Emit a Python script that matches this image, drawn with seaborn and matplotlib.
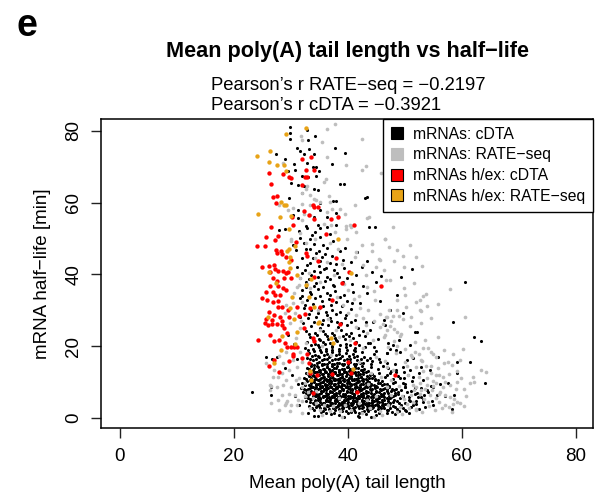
import matplotlib
matplotlib.use("Agg")
import matplotlib.pyplot as plt
from matplotlib.lines import Line2D
import seaborn as sns
import pandas as pd

# ---------------- data ----------------
x_ticks = [0, 20, 40, 60, 80]
y_ticks = [0, 20, 40, 60, 80]
series_labels = ["mRNAs: cDTA", "mRNAs: RATE\u2212seq",
                 "mRNAs h/ex: cDTA", "mRNAs h/ex: RATE\u2212seq"]
series_colors = ["#000000", "#BEBEBE", "#FF0000", "#E8A317"]
pearson_rate = -0.2197
pearson_cdta = -0.3921

# mRNAs: cDTA (black)
cdta_pts = [
    # upper scatter
    (29.9,81.1),(29.8,79.4),(29.8,77.8),(32.9,80.2),(33.0,77.4),(34.2,78.5),(31.1,75.2),(31.6,74.3),
    (33.2,75.0),(32.3,73.6),(34.0,73.6),(37.8,75.3),(39.5,73.8),(27.4,73.5),(28.9,72.1),(30.6,70.8),
    (32.9,71.1),(33.8,70.0),(34.4,70.0),(34.9,68.7),(37.2,70.8),(30.8,69.2),(29.5,68.9),(31.9,67.5),
    (33.0,67.0),(34.5,67.5),(30.1,65.4),(31.2,65.0),(32.3,64.7),(34.0,63.8),(34.8,63.5),(38.6,65.3),
    (39.4,65.3),(29.6,61.3),(31.9,62.6),(37.4,60.4),(37.9,60.4),(35.1,59.8),(43.0,61.3),(43.3,61.5),
    (31.3,58.0),(31.3,55.7),(30.4,56.6),(35.1,58.0),(36.3,56.0),(37.9,57.1),(43.7,53.3),(44.7,53.3),
    (32.7,53.4),(34.8,53.7),(38.0,53.7),(34.1,56.0),
    # middle scatter
    (28.0,52.4),(29.0,52.6),(31.5,52.1),(32.9,53.0),(34.2,51.9),(35.1,52.8),(36.4,53.3),(31.6,50.2),
    (33.4,49.9),(35.1,50.5),(36.8,51.2),(32.3,48.7),(34.1,48.4),(35.7,48.2),(37.4,49.3),(33.3,47.1),
    (35.0,46.5),(36.4,47.3),(38.6,46.5),(39.5,47.4),(41.6,46.3),(31.9,44.5),(33.8,44.5),(35.4,44.9),
    (37.2,45.2),(39.1,44.0),(40.5,43.5),(43.3,43.7),(31.1,42.2),(32.9,42.6),(34.9,42.4),(36.1,41.7),
    (37.9,42.8),(39.4,41.7),(42.4,42.2),(44.2,40.8),(32.0,40.3),(33.6,39.8),(35.1,40.8),(36.4,39.4),
    (38.1,40.3),(39.8,38.9),(41.5,39.8),(32.7,37.8),(34.5,37.5),(36.0,38.2),(37.4,37.0),(39.2,37.8),
    (40.8,37.2),(42.7,36.9),(45.0,38.0),(32.0,35.7),(33.3,35.2),(34.8,35.9),(36.3,34.7),(37.7,35.4),
    (39.3,34.3),(40.9,35.2),(43.4,34.7),(31.6,33.3),(32.9,32.9),(34.2,33.5),(35.4,32.6),(36.7,33.2),
    (38.0,32.2),(39.8,32.6),(42.1,31.9),(32.3,30.6),(33.6,30.1),(35.0,30.7),(36.1,29.4),(37.3,30.1),
    (38.7,29.4),(40.5,30.4),(31.6,28.2),(33.0,27.8),(34.4,28.2),(35.7,27.3),(36.8,27.9),(38.1,26.8),
    (39.5,27.8),(41.2,27.3),(44.4,26.8),
    # plume above the core
    (32.2,26.5),(34.0,26.8),(35.5,26.3),(37.0,26.9),(38.8,26.4),(40.6,26.7),(33.1,28.9),(34.8,29.3),
    (36.4,28.7),(37.9,29.1),(39.6,28.6),(32.4,31.4),(33.9,31.8),(35.6,31.3),(37.1,31.6),(38.9,31.1),
    (40.7,31.9),(31.9,34.1),(33.6,34.4),(35.1,33.9),(36.9,34.3),(38.6,33.8),(32.6,36.6),(34.1,36.9),
    (35.7,36.4),(37.6,36.8),(31.6,39.1),(33.1,38.6),(34.7,39.2),(36.9,38.8),(38.5,39.4),(32.4,41.3),
    (34.1,41.0),(35.8,41.6),(37.5,41.2),(33.4,43.3),(35.1,43.6),(36.8,43.1),(30.9,46.8),(32.6,47.2),
    (34.4,46.0),(36.0,45.7),(33.7,51.0),(30.3,48.3),
    # right scatter
    (51.2,41.4),(49.4,39.3),(60.6,37.9),(45.9,39.5),(48.6,34.2),(45.6,32.6),(47.4,30.2),(49.6,29.3),
    (58.5,26.8),(46.3,27.4),(51.7,24.0),(52.1,24.0),(62.1,22.6),(63.3,21.5),(48.9,21.7),(50.9,20.3),
    (47.9,20.3),(47.4,19.1),(48.5,18.9),(49.2,18.4),(46.8,18.0),(55.8,17.0),(51.4,16.6),(61.4,15.6),
    (59.2,15.6),(50.3,16.1),(64.1,9.8),(59.1,12.4),(57.6,9.6),(58.6,6.4),(57.0,6.1),(56.1,9.4),
    (55.0,8.7),(53.8,7.8),(53.2,4.5),(55.0,3.6),(52.3,5.9),(51.9,4.0),(50.0,2.2),(58.3,2.4),
    (50.7,5.0),(51.4,11.5),(52.9,14.3),(54.4,13.5),(50.9,13.3),(49.7,14.3),(48.5,13.3),(47.4,12.4),
    (49.1,11.0),(47.9,9.6),(46.8,8.2),(48.8,7.3),(50.0,8.7),(47.6,5.9),(46.5,4.0),(48.2,3.0),(46.8,2.2),
    (48.9,1.8),(50.8,1.4),(52.4,2.6),(49.6,2.9),(51.5,3.5),(53.6,3.0),(49.0,4.1),(50.9,4.6),(53.1,5.2),
    (54.7,4.8),(49.7,6.0),(51.7,6.6),(53.4,6.5),(55.6,6.3),(49.3,7.9),(51.0,7.6),(52.8,8.4),(54.6,8.8),
    (49.6,9.6),(51.3,10.2),(53.1,10.5),(48.8,11.6),(50.6,11.9),(52.4,12.6),(47.6,13.1),(49.9,12.8),
    (46.1,14.6),(48.3,14.9),(44.3,15.9),(46.8,15.3),(43.3,16.2),(45.0,18.6),(43.9,20.9),(41.9,20.2),
    # left / edge scatter
    (23.2,7.3),(25.7,17.1),(26.7,16.3),(26.5,8.7),(26.6,6.4),(27.5,17.0),(28.9,14.0),(30.2,12.0),
    (31.0,16.5),(30.5,20.5),(29.5,23.0),(31.2,9.5),(30.8,6.0),(31.5,3.5),(33.0,1.5),(34.1,0.6),
    (42.0,0.3),(43.8,24.5),(45.2,22.0),(46.5,25.8),(44.6,19.8),(46.9,18.2),(45.5,16.5),(47.0,21.0),
    (43.2,26.8),(42.0,23.2),(41.0,19.0),(40.2,22.8),(42.8,17.0),
    # dense core
    (34.8,0.6),(37.0,1.2),(38.5,0.8),(40.1,1.4),(41.7,0.5),(43.2,1.1),(45.0,0.9),(46.9,1.3),(39.4,0.3),
    (42.5,1.6),(44.1,0.4),(48.3,1.0),
    (35.3,1.7),(37.6,1.5),(38.9,1.9),(40.6,1.7),(42.0,1.3),(43.6,1.8),(45.4,1.4),(47.8,1.7),
    (34.1,2.3),(35.6,1.9),(36.7,2.6),(37.8,2.1),(38.9,2.8),(39.7,1.8),(40.8,2.4),(41.9,2.9),(42.8,2.0),
    (43.9,2.6),(44.8,1.9),(45.9,2.7),(47.1,2.2),(48.6,2.5),(50.2,2.0),(36.2,1.5),(41.3,1.6),
    (35.1,2.8),(36.0,2.5),(37.4,2.9),(38.4,2.4),(39.2,2.7),(40.2,2.9),(41.0,2.3),(42.4,2.8),(43.4,2.4),
    (44.3,2.9),(45.3,2.5),(46.4,2.8),
    (33.7,2.9),(34.9,3.3),(35.8,2.9),(36.6,3.4),(37.6,3.1),(38.3,3.3),(39.1,3.0),(40.0,3.2),(40.9,2.9),
    (41.7,3.4),(42.6,3.0),(43.4,3.3),(44.4,3.0),(45.2,3.3),(46.2,3.2),(47.4,2.9),
    (33.2,3.4),(34.5,3.1),(35.4,3.8),(36.3,3.2),(37.2,3.6),(38.0,3.0),(38.8,3.9),(39.6,3.3),(40.5,3.7),
    (41.3,3.1),(42.2,3.5),(43.0,3.9),(43.9,3.2),(44.8,3.6),(45.7,3.0),(46.8,3.8),(47.9,3.3),(49.3,3.7),
    (51.0,3.1),
    (34.6,3.7),(35.5,3.9),(36.4,3.6),(37.3,3.9),(38.2,3.7),(39.0,3.6),(39.9,3.9),(40.8,3.6),(41.6,3.9),
    (42.5,3.7),(43.4,3.9),(44.2,3.6),(45.1,3.9),(46.0,3.7),
    (34.0,4.0),(35.0,3.6),(35.9,4.1),(36.8,3.7),(37.7,4.2),(38.5,3.5),(39.3,4.1),(40.1,3.6),(40.9,4.2),
    (41.8,3.7),(42.6,4.1),(43.5,3.6),(44.3,4.2),(45.2,3.7),(46.2,4.0),(47.3,3.6),
    (33.3,4.4),(34.3,4.6),(35.2,4.5),(36.1,4.6),(36.9,4.4),(37.7,4.6),(38.5,4.3),(39.3,4.6),(40.1,4.5),
    (40.9,4.7),(41.6,4.4),(42.5,4.6),(43.3,4.4),(44.2,4.5),(45.1,4.7),(46.0,4.5),(47.0,4.6),(48.0,4.4),
    (32.7,4.6),(33.9,4.2),(34.8,4.9),(35.7,4.3),(36.5,4.8),(37.3,4.1),(38.1,4.7),(38.9,4.4),(39.7,4.9),
    (40.5,4.2),(41.2,4.6),(42.0,4.3),(42.9,4.8),(43.7,4.1),(44.6,4.7),(45.5,4.4),(46.4,4.9),(47.4,4.3),
    (48.6,4.7),(50.1,4.2),(52.0,4.8),
    (33.4,5.2),(34.3,5.0),(35.2,5.3),(36.1,4.9),(36.9,5.3),(37.7,5.0),(38.5,5.2),(39.3,4.9),(40.1,5.3),
    (40.9,5.0),(41.6,5.3),(42.5,5.0),(43.3,5.2),(44.2,5.0),(45.1,5.3),(46.0,5.0),(47.0,5.2),(48.1,5.0),
    (33.0,5.6),(33.9,5.7),(34.8,5.5),(35.6,5.8),(36.4,5.6),(37.2,5.7),(38.0,5.4),(38.7,5.8),(39.5,5.7),
    (40.3,5.5),(41.1,5.8),(41.9,5.6),(42.7,5.7),(43.5,5.4),(44.4,5.7),(45.4,5.6),(46.3,5.8),(47.4,5.5),
    (32.4,5.8),(33.5,5.4),(34.4,6.1),(35.2,5.5),(36.0,6.0),(36.8,5.3),(37.6,5.9),(38.3,5.6),(39.1,6.2),
    (39.9,5.4),(40.7,5.8),(41.5,5.5),(42.3,6.1),(43.1,5.6),(44.0,5.9),(44.9,5.3),(45.8,6.0),(46.8,5.6),
    (47.9,6.2),(49.2,5.5),(50.7,5.9),(52.8,5.7),
    (34.2,6.0),(35.0,5.9),(35.9,6.2),(36.7,5.9),(37.5,6.1),(38.3,5.9),(39.2,6.0),(40.0,6.2),(40.9,5.9),
    (41.7,6.1),(42.6,5.9),(43.4,6.0),(44.3,6.2),(45.2,5.9),(46.1,6.1),
    (33.0,6.4),(33.9,6.2),(34.8,6.5),(35.6,6.1),(36.4,6.4),(37.2,6.2),(38.0,6.5),(38.7,6.2),(39.5,6.4),
    (40.3,6.1),(41.1,6.5),(41.9,6.2),(42.7,6.4),(43.5,6.1),(44.4,6.5),(45.3,6.2),(46.2,6.4),(47.2,6.2),
    (48.3,6.4),
    (32.6,6.9),(33.6,7.1),(34.5,6.8),(35.3,7.0),(36.1,6.9),(36.9,7.1),(37.6,6.7),(38.4,7.0),(39.1,6.8),
    (39.9,7.1),(40.7,6.9),(41.5,7.2),(42.3,6.7),(43.1,7.0),(44.0,6.9),(44.9,7.1),(45.9,6.8),(47.0,7.0),
    (48.2,6.9),
    (32.1,7.1),(33.2,6.7),(34.1,7.3),(34.9,6.8),(35.7,7.4),(36.5,6.6),(37.2,7.2),(38.0,6.9),(38.7,7.5),
    (39.5,6.7),(40.3,7.1),(41.1,6.8),(41.9,7.4),(42.7,6.9),(43.6,7.2),(44.5,6.6),(45.4,7.3),(46.4,6.9),
    (47.5,7.4),(48.8,6.8),(50.3,7.2),(52.1,6.9),(54.0,7.3),
    (32.7,7.8),(33.6,7.6),(34.5,7.9),(35.3,7.5),(36.1,7.8),(36.9,7.6),(37.6,7.9),(38.4,7.6),(39.1,7.8),
    (39.9,7.5),(40.7,7.9),(41.5,7.6),(42.3,7.8),(43.1,7.5),(44.0,7.9),(44.9,7.6),(45.9,7.8),(46.9,7.5),
    (48.1,7.8),
    (32.3,8.2),(33.4,8.3),(34.3,8.0),(35.1,8.3),(35.9,8.1),(36.6,8.4),(37.4,8.0),(38.1,8.3),(38.9,8.2),
    (39.6,8.5),(40.4,8.1),(41.2,8.4),(42.0,8.0),(42.9,8.3),(43.8,8.2),(44.7,8.4),(45.6,8.0),(46.6,8.3),
    (47.8,8.2),
    (31.8,8.4),(33.0,8.0),(33.9,8.6),(34.7,8.1),(35.5,8.7),(36.2,8.0),(37.0,8.5),(37.7,8.2),(38.5,8.8),
    (39.2,8.0),(40.0,8.4),(40.8,8.1),(41.6,8.7),(42.4,8.2),(43.3,8.6),(44.2,8.0),(45.1,8.5),(46.1,8.2),
    (47.2,8.7),(48.5,8.1),(50.0,8.5),(51.8,8.3),
    (33.7,8.7),(34.5,8.6),(35.4,8.8),(36.2,8.6),(37.1,8.7),(37.9,8.6),(38.8,8.7),(39.6,8.6),(40.4,8.8),
    (41.3,8.6),(42.1,8.7),(43.0,8.6),(43.9,8.8),(44.8,8.6),
    (32.5,9.1),(33.5,8.9),(34.4,9.2),(35.2,8.9),(36.0,9.1),(36.8,8.8),(37.5,9.2),(38.3,8.9),(39.0,9.1),
    (39.8,8.8),(40.6,9.2),(41.4,8.9),(42.2,9.1),(43.1,8.8),(44.0,9.2),(45.0,8.9),(46.0,9.1),(47.3,8.9),
    (32.4,9.5),(33.6,9.6),(34.4,9.4),(35.2,9.6),(36.0,9.5),(36.7,9.7),(37.5,9.4),(38.2,9.6),(39.0,9.5),
    (39.8,9.7),(40.6,9.4),(41.4,9.6),(42.3,9.4),(43.2,9.6),(44.1,9.5),(45.2,9.6),(46.4,9.4),
    (32.0,9.8),(33.1,9.3),(34.0,9.9),(34.8,9.4),(35.6,10.0),(36.3,9.3),(37.1,9.8),(37.8,9.5),(38.6,10.1),
    (39.4,9.3),(40.2,9.7),(41.0,9.4),(41.8,10.0),(42.7,9.5),(43.6,9.9),(44.6,9.3),(45.7,9.8),(46.9,9.5),
    (48.3,9.9),(50.0,9.4),
    (32.9,10.4),(33.8,10.2),(34.7,10.5),(35.5,10.1),(36.3,10.4),(37.0,10.2),(37.8,10.5),(38.6,10.2),
    (39.4,10.4),(40.2,10.1),(41.0,10.5),(41.9,10.2),(42.7,10.4),(43.7,10.1),(44.8,10.5),(46.0,10.2),
    (34.1,10.7),(35.0,10.6),(35.8,10.7),(36.7,10.5),(37.5,10.7),(38.3,10.6),(39.1,10.7),(40.0,10.5),
    (40.8,10.7),(41.6,10.6),(42.4,10.7),(43.3,10.5),
    (32.7,10.9),(33.6,11.0),(34.5,10.8),(35.3,11.0),(36.2,10.9),(36.9,11.1),(37.8,10.8),(38.6,11.0),
    (39.4,10.9),(40.2,11.1),(41.0,10.8),(41.8,11.0),(42.7,10.9),(43.7,11.1),(44.8,10.8),
    (32.3,11.1),(33.4,10.6),(34.3,11.3),(35.1,10.8),(35.9,11.4),(36.6,10.7),(37.4,11.2),(38.2,10.9),
    (39.0,11.5),(39.8,10.7),(40.6,11.1),(41.4,10.8),(42.3,11.4),(43.2,10.9),(44.2,11.2),(45.3,10.6),
    (46.5,11.3),(48.0,10.9),(49.8,11.2),
    (33.1,11.8),(34.0,11.6),(34.9,11.9),(35.7,11.5),(36.5,11.8),(37.3,11.6),(38.1,11.9),(38.9,11.5),
    (39.7,11.8),(40.5,11.6),(41.4,11.9),(42.3,11.5),(43.3,11.8),(44.5,11.6),
    (33.0,12.2),(33.9,12.4),(34.8,12.1),(35.7,12.3),(36.6,12.2),(37.4,12.4),(38.2,12.0),(39.0,12.3),
    (39.9,12.2),(40.8,12.4),(41.7,12.1),(42.7,12.3),(43.8,12.1),
    (32.6,12.5),(33.7,12.0),(34.6,12.7),(35.4,12.2),(36.2,12.8),(37.0,12.1),(37.8,12.6),(38.6,12.3),
    (39.4,12.9),(40.3,12.1),(41.2,12.5),(42.1,12.2),(43.1,12.8),(44.2,12.3),(45.4,12.6),(46.8,12.1),
    (48.5,12.7),
    (34.3,12.8),(35.1,12.7),(36.0,12.9),(36.9,12.7),(37.7,12.9),(38.5,12.8),(39.7,12.7),(40.7,12.9),
    (41.7,12.7),(42.7,12.9),
    (33.4,13.2),(34.3,12.9),(35.2,13.3),(36.0,13.0),(36.8,13.2),(37.6,12.9),(38.4,13.3),(39.3,13.0),
    (40.2,13.2),(41.2,12.9),(42.3,13.3),(43.5,13.0),
    (33.2,13.6),(34.1,13.8),(35.0,13.5),(35.9,13.7),(36.7,13.6),(37.6,13.8),(38.5,13.4),(39.4,13.7),
    (40.3,13.6),(41.3,13.8),(42.4,13.5),
    (32.9,13.9),(33.9,13.4),(34.8,14.1),(35.6,13.6),(36.4,14.2),(37.2,13.5),(38.0,14.0),(38.9,13.7),
    (39.8,14.3),(40.7,13.5),(41.7,13.9),(42.8,13.6),(44.0,14.2),(45.3,13.7),(47.0,13.9),
    (33.6,14.6),(34.6,14.4),(35.5,14.7),(36.3,14.3),(37.2,14.6),(38.1,14.4),(39.1,14.7),(40.1,14.3),
    (41.2,14.6),(42.4,14.4),
    (33.6,15.0),(34.6,15.2),(35.5,14.9),(36.3,15.1),(37.2,15.0),(38.1,15.2),(39.0,14.9),(40.0,15.1),
    (41.0,15.0),(42.2,15.2),
    (33.1,15.3),(34.1,14.8),(35.0,15.5),(35.8,15.0),(36.7,15.6),(37.6,14.9),(38.5,15.4),(39.4,15.1),
    (40.4,15.7),(41.5,14.9),(42.7,15.3),(44.0,15.0),(45.6,15.5),
    (33.4,16.3),(34.4,16.5),(35.4,16.1),(36.3,16.4),(37.2,16.2),(38.2,16.5),(39.3,16.1),(40.4,16.4),
    (41.6,16.2),
    (32.8,16.7),(33.9,16.2),(34.9,16.9),(35.8,16.4),(36.7,17.0),(37.7,16.3),(38.7,16.8),(39.8,16.5),
    (41.0,17.1),(42.3,16.3),(43.8,16.8),
    (33.7,17.4),(34.8,17.2),(35.8,17.5),(36.8,17.3),(37.9,17.5),(39.0,17.2),(40.2,17.4),(41.6,17.3),
    (33.2,18.1),(34.3,17.6),(35.3,18.3),(36.3,17.8),(37.3,18.4),(38.4,17.7),(39.6,18.2),(40.9,17.9),
    (42.5,18.3),(44.5,17.8),
    (33.0,18.9),(34.1,18.7),(35.2,19.0),(36.2,18.6),(37.3,18.9),(38.5,18.7),(39.8,19.0),(41.2,18.7),
    (32.5,19.6),(33.8,19.1),(35.0,19.8),(36.1,19.3),(37.2,19.9),(38.4,19.2),(39.7,19.7),(41.2,19.4),
    (43.0,19.8),
    (33.5,20.4),(34.8,20.2),(36.0,20.5),(37.3,20.1),(38.7,20.4),(40.3,20.2),
    (32.9,21.1),(34.3,20.6),(35.6,21.3),(36.8,20.8),(38.1,21.4),(39.6,20.7),(41.4,21.2),(43.5,20.9),
    (33.9,21.9),(35.2,21.7),(36.6,22.0),(38.0,21.7),(39.5,22.0),
    (33.4,22.6),(34.9,22.1),(36.3,22.8),(37.7,22.3),(39.2,22.9),(40.9,22.2),(43.0,22.7),
    (33.1,23.4),(34.6,23.2),(36.0,23.5),(37.5,23.1),(39.6,23.3),
    (32.6,24.1),(34.2,23.6),(35.7,24.3),(37.2,23.8),(38.8,24.4),(40.5,23.7),(42.6,24.2),
    (33.5,25.6),(35.1,25.1),(36.6,25.8),(38.2,25.3),(39.9,25.9),(41.8,25.2),
]

# mRNAs: RATE-seq (grey)
rate_pts = [
    # upper
    (37.7,82.0),(36.3,80.6),(31.7,78.5),(32.0,77.5),(35.4,76.9),(42.4,77.7),(28.6,71.1),(36.3,72.6),
    (39.6,70.5),(43.1,70.1),(42.5,69.2),(45.8,68.2),(36.1,66.6),(35.8,65.7),(32.9,64.7),(32.6,63.7),
    (32.0,62.6),(33.4,62.0),(34.1,61.1),(34.5,60.6),(35.1,60.2),(36.7,61.9),(36.8,60.2),(41.2,59.2),
    (38.6,58.3),(37.3,58.3),(36.3,57.4),(33.3,59.2),(31.9,59.6),(30.4,58.5),(29.5,58.0),(27.9,59.2),
    (32.3,56.9),(33.4,56.6),(39.5,56.8),(38.3,56.2),(43.3,55.7),(43.7,56.0),(40.3,53.7),(39.6,53.4),
    (37.1,53.9),(32.0,55.1),(35.8,54.0),
    # middle
    (31.6,51.4),(30.1,49.3),(37.7,51.7),(39.6,52.6),(40.6,53.3),(41.5,51.9),(46.5,50.0),(44.3,48.4),
    (41.4,46.3),(45.5,44.2),(42.7,42.6),(43.2,39.8),(45.0,42.2),(46.7,38.4),(43.3,36.6),(44.6,35.4),
    (42.0,34.1),(39.2,31.5),(42.1,30.5),(43.6,30.1),(45.6,28.9),(46.8,28.2),(38.3,47.1),(36.3,43.4),
    (31.6,38.9),(31.1,36.6),(32.0,32.4),(30.7,29.2),(31.5,37.0),(32.9,37.2),(35.1,38.0),(40.1,35.7),
    (38.1,33.8),(41.5,28.7),(44.7,32.9),(30.1,50.0),(34.2,50.0),(32.7,48.7),(33.2,40.3),(30.6,34.7),
    (29.2,31.5),(28.9,29.2),(29.8,26.4),
    (30.9,22.4),(31.7,27.0),(30.4,31.9),(33.3,36.1),(34.2,44.5),(37.6,39.9),(39.4,37.2),(41.0,33.1),
    (40.0,29.3),(42.7,27.8),(36.5,27.6),(34.7,30.1),(37.9,24.4),(43.2,25.8),(39.0,42.9),(41.2,44.9),
    (36.8,48.8),(39.9,49.8),(42.5,48.2),
    # right
    (47.9,53.1),(46.6,50.0),(48.7,46.9),(49.6,45.1),(51.9,44.9),(49.9,42.1),(53.0,42.3),(45.6,44.0),
    (47.4,38.4),(57.9,35.9),(48.6,32.8),(50.0,34.3),(53.2,34.1),(53.7,34.4),(52.6,32.8),(51.9,32.3),
    (55.8,31.8),(53.8,31.1),(52.6,30.2),(52.9,29.9),(48.6,30.0),(47.2,30.2),(48.9,28.4),(47.9,28.4),
    (49.6,27.7),(60.6,28.2),(46.7,28.0),(46.2,26.3),(47.4,25.6),(48.1,24.9),(46.8,24.5),(48.6,24.0),
    (49.2,22.8),(46.3,22.6),(48.1,21.5),(48.6,20.0),(53.2,19.6),(54.0,19.5),(60.2,19.1),(51.8,18.4),
    (55.0,17.7),(58.5,17.7),(52.9,16.1),(55.4,17.0),(58.2,14.7),(57.6,15.6),(51.3,17.0),(51.9,14.3),
    (50.3,14.5),(63.4,13.3),(64.2,12.9),(59.2,13.1),(53.1,13.0),(56.7,11.5),(56.0,11.9),(54.6,12.4),
    (61.5,9.6),(62.2,9.9),(59.1,10.1),(57.9,9.2),(56.7,8.7),(55.5,9.6),(55.0,10.4),(53.8,11.0),
    (52.6,9.6),(51.4,9.2),(56.1,7.3),(57.0,6.4),(57.9,5.9),(54.4,6.4),(53.3,5.4),(52.6,6.8),
    (59.1,4.5),(59.6,4.2),(58.5,4.0),(56.0,4.5),(57.1,3.6),(54.3,3.3),(53.0,1.7),(51.9,2.2),
    (50.7,2.7),(58.3,1.7),(49.1,3.0),(48.7,1.7),(50.3,4.0),(49.8,5.4),(51.0,6.4),(51.6,7.8),
    (52.9,7.8),(54.7,7.8),(53.8,9.2),
    (55.2,2.3),(56.6,2.8),(57.8,3.0),(60.3,3.2),(54.0,4.4),(55.4,5.5),(58.7,5.4),(60.8,6.1),
    (52.0,8.6),(54.9,8.9),(58.9,8.0),(60.4,8.2),(61.9,11.3),(59.8,11.0),(57.8,12.2),(55.8,13.9),
    (53.7,14.5),(56.8,15.2),(59.6,16.1),(52.4,17.9),(54.5,18.4),(56.8,18.9),(50.1,19.3),(51.7,21.3),
    (53.6,21.8),(55.8,22.6),(49.4,23.4),(50.9,25.6),(52.9,26.4),(54.6,27.9),(50.2,30.9),(51.1,28.0),
    (47.6,26.9),(49.8,36.1),(51.6,37.6),(46.3,41.1),(48.1,43.6),(44.2,46.4),(50.9,48.3),(47.3,47.6),
    # left of core and bottom
    (25.7,15.2),(26.3,9.2),(28.4,6.4),(29.2,4.1),(31.0,3.6),(26.6,4.1),(27.8,5.0),(29.2,10.6),
    (30.1,8.7),(30.7,6.4),(31.9,4.6),(33.3,2.7),(35.1,2.2),(36.8,2.0),(38.6,1.8),(40.6,2.2),
    (42.4,1.3),(43.9,2.7),(45.6,1.8),(47.1,3.6),(27.9,17.3),(29.1,18.5),(26.3,7.8),(27.5,8.7),
    (26.9,11.5),(28.4,12.4),(29.7,13.4),(31.1,14.3),(31.5,11.1),(31.9,8.7),(32.5,6.0),(45.6,25.4),
    (46.5,23.1),(47.1,19.9),(45.0,17.1),(46.8,14.3),(45.9,11.5),(46.8,8.7),(45.0,6.0),(43.3,5.0),
    (42.0,4.1),(39.5,3.6),(37.4,3.2),(35.8,3.6),(34.5,4.1),(33.9,5.5),(33.0,7.3),(32.5,9.7),
    (33.0,12.4),(32.0,15.7),(31.6,18.5),(32.6,20.8),(40.3,21.7),(42.7,19.4),(43.3,23.6),(44.4,21.7),
    (41.5,25.4),(35.1,24.5),(31.6,25.0),(26.5,8.9),(27.8,11.5),(28.9,3.6),(30.1,3.6),(29.3,4.7),
    (28.0,2.2),(29.9,1.8),(31.9,1.4),(27.0,13.4),(28.6,15.3),(30.4,16.1),(30.9,10.5),(28.7,9.1),
    (29.6,6.7),(31.3,5.0),
    # inside the core
    (38.5,5.5),(43.5,9.5),(47.5,6.5),(49.0,9.0),(50.5,12.0),(48.0,13.5),(46.5,16.0),(44.0,12.5),
    (42.0,15.5),(37.0,17.5),(34.5,7.5),(33.5,12.5),(35.5,20.0),(38.5,22.5),(44.5,27.0),(47.5,10.5),
    (49.5,6.0),(51.5,4.5),(53.5,8.0),(52.5,11.5),(54.5,14.5),(50.0,15.5),(48.5,18.0),(51.0,17.5),
    (53.0,16.0),(55.5,12.0),(57.0,10.0),(56.0,6.8),(52.0,2.5),(49.5,1.0),(46.0,0.8),(44.5,0.2),
    (39.0,0.3),(35.5,0.8),
]

# mRNAs h/ex: cDTA (red)
hex_cdta_pts = [
    (33.6,72.8),(31.9,72.2),(32.6,69.2),(34.1,69.2),(26.1,68.3),(28.6,68.0),(29.7,67.2),(30.1,66.8),
    (32.5,67.0),(32.9,67.0),(26.5,65.3),(31.9,64.8),(26.9,61.6),(27.5,61.8),(27.4,59.8),(33.8,59.2),
    (34.1,58.9),(34.7,58.9),(32.3,57.6),(33.2,56.6),(30.2,56.0),(34.1,55.5),(37.1,55.5),(38.2,55.9),
    (41.1,53.9),(30.3,53.7),(26.6,53.3),
    (25.7,50.4),(27.7,50.6),(27.2,49.6),(24.1,48.0),(25.5,48.0),(27.4,46.8),(27.5,46.1),(28.2,46.5),
    (29.2,44.9),(30.1,44.0),(28.4,45.7),(30.9,48.9),(32.6,45.9),(32.9,45.2),(34.7,43.8),(36.2,51.2),
    (38.0,44.7),(25.0,42.2),(26.2,42.4),(27.0,42.6),(27.2,41.4),(26.3,40.8),(27.8,41.0),(28.6,41.0),
    (29.2,40.3),(29.5,40.8),(30.1,38.9),(26.9,38.9),(27.6,38.2),(28.8,38.9),(26.4,36.9),(27.8,36.8),
    (28.7,36.1),(29.2,35.7),(25.7,35.2),(26.8,35.2),(27.2,34.3),(28.1,34.3),(25.0,33.5),(25.8,32.9),
    (26.9,32.4),(27.8,32.6),(28.5,31.0),(27.7,31.0),(29.5,30.1),(31.1,31.0),(33.3,30.7),(26.1,29.4),
    (27.0,28.7),(28.1,28.2),(29.7,28.2),(31.5,28.5),(25.7,27.6),(26.7,27.3),(34.0,39.4),(37.3,32.9),
    (40.2,40.6),(45.8,36.8),(38.9,37.7),(35.1,30.9),(32.5,28.9),
    (25.4,26.4),(26.0,25.9),(26.7,26.1),(27.6,26.1),(28.5,27.0),(28.4,25.9),(28.8,25.0),(29.4,23.6),
    (26.3,23.1),(24.2,21.7),(27.1,21.5),(27.9,21.7),(28.9,21.0),(29.4,19.9),(30.0,19.9),(30.5,19.9),
    (31.1,19.9),(33.8,22.2),(34.1,21.5),(32.3,25.2),(30.3,17.7),(30.4,17.3),(32.0,16.8),(32.9,17.7),
    (27.1,16.2),(26.2,14.5),(29.7,16.0),(27.9,12.9),(33.2,15.2),(33.4,12.4),(34.6,11.9),(33.8,6.9),
    (41.2,21.0),(40.1,15.6),(40.6,12.6),(37.2,12.2),(41.6,7.1),(38.7,26.1),(48.3,11.9),
]

# mRNAs h/ex: RATE-seq (orange)
hex_rate_pts = [
    (32.6,80.8),(29.1,79.0),(26.3,74.4),(24.0,72.9),(26.1,71.4),(28.8,70.4),(27.5,70.6),(29.1,68.7),
    (28.2,60.3),(28.8,59.2),(29.1,59.4),(24.2,56.7),(28.1,55.9),(30.0,56.4),
    (29.7,52.6),(29.7,47.1),(29.4,46.5),(30.8,48.0),(29.9,44.9),(29.6,43.5),(29.8,41.9),(26.2,40.8),
    (31.0,39.8),(27.4,37.5),(32.6,37.0),(33.6,38.7),(30.2,33.8),(33.2,33.8),(29.9,30.5),(34.1,31.0),
    (26.0,28.2),(30.5,27.6),(34.8,26.4),(38.2,50.0),(40.6,40.3),
    (28.5,22.7),(31.1,24.0),(28.2,18.9),(27.1,15.2),(33.3,13.2),(33.6,10.6),(37.1,22.2),(37.4,20.8),
    (40.9,13.6),(34.9,26.6),(30.8,20.5),
]

# ---------------- figure ----------------
sns.set_style("white")
plt.rcParams["font.family"] = ["Liberation Sans", "DejaVu Sans"]
plt.rcParams["text.color"] = "black"
plt.rcParams["axes.labelcolor"] = "black"
plt.rcParams["xtick.color"] = "black"
plt.rcParams["ytick.color"] = "black"

W, H = 597, 501
fig = plt.figure(figsize=(W / 100, H / 100), dpi=100)
ax = fig.add_axes([101 / W, 1 - 428 / H, (593 - 101) / W, (428 - 119) / H])

def frame(pts):
    return pd.DataFrame(pts, columns=["tail", "halflife"])

df_cdta = frame(cdta_pts)
df_rate = frame(rate_pts)
df_hc = frame(hex_cdta_pts)
df_hr = frame(hex_rate_pts)

sns.scatterplot(data=df_cdta, x="tail", y="halflife", ax=ax, color=series_colors[0],
                s=5, linewidth=0, legend=False, zorder=2)
sns.scatterplot(data=df_rate, x="tail", y="halflife", ax=ax, color=series_colors[1],
                s=7, linewidth=0, legend=False, zorder=3)
sns.scatterplot(data=df_hc, x="tail", y="halflife", ax=ax, color=series_colors[2],
                s=10, linewidth=0, legend=False, zorder=4)
sns.scatterplot(data=df_hr, x="tail", y="halflife", ax=ax, color=series_colors[3],
                s=10, linewidth=0, legend=False, zorder=5)

ax.set_xlim(-3.3, 83.0)
ax.set_ylim(-2.8, 83.3)
ax.set_xticks(x_ticks)
ax.set_yticks(y_ticks)
ax.set_xticklabels([str(t) for t in x_ticks])
ax.set_yticklabels([str(t) for t in y_ticks], rotation=90, va="center")
ax.tick_params(axis="both", direction="out", length=7.5, width=1, color="#222222",
               labelcolor="black", labelsize=13.5, left=True, bottom=True)
ax.tick_params(axis="x", pad=7)
ax.tick_params(axis="y", pad=6)
for sp in ax.spines.values():
    sp.set_visible(True)
    sp.set_color("black")
    sp.set_linewidth(1.1)

ax.set_xlabel("Mean poly(A) tail length", fontsize=13.5, labelpad=7, color="black")
ax.set_ylabel("mRNA half\u2212life [min]", fontsize=13.5, labelpad=10, color="black")

handles = [
    Line2D([], [], linestyle="none", marker="s", markersize=8, markerfacecolor=series_colors[0],
           markeredgecolor="black", markeredgewidth=0.8),
    Line2D([], [], linestyle="none", marker="s", markersize=8, markerfacecolor=series_colors[1],
           markeredgecolor=series_colors[1], markeredgewidth=0.8),
    Line2D([], [], linestyle="none", marker="s", markersize=8, markerfacecolor=series_colors[2],
           markeredgecolor="black", markeredgewidth=0.8),
    Line2D([], [], linestyle="none", marker="s", markersize=8, markerfacecolor=series_colors[3],
           markeredgecolor="black", markeredgewidth=0.8),
]
leg = ax.legend(handles, series_labels, loc="upper right", bbox_to_anchor=(1.0, 1.0),
                borderaxespad=0, frameon=True, fancybox=False, framealpha=1,
                edgecolor="black", fontsize=11.3, handlelength=0.8, handletextpad=0.6,
                labelspacing=0.36, borderpad=0.5)
leg.get_frame().set_linewidth(1.0)
leg.set_zorder(10)
for t in leg.get_texts():
    t.set_color("black")

fig.text(347 / W, 1 - 52 / H, "Mean poly(A) tail length vs half\u2212life", ha="center",
         va="center", fontsize=15.6, fontweight="bold", color="black")
fig.text(211 / W, 1 - 86 / H, f"Pearson\u2019s r RATE\u2212seq = {pearson_rate:.4f}".replace("-", "\u2212"),
         ha="left", va="center", fontsize=13.3, color="black")
fig.text(211 / W, 1 - 106 / H, f"Pearson\u2019s r cDTA = {pearson_cdta:.4f}".replace("-", "\u2212"),
         ha="left", va="center", fontsize=13.3, color="black")
fig.text(27 / W, 1 - 26 / H, "e", ha="center", va="center", fontsize=27, fontweight="bold",
         color="black")

fig.savefig("out.png", dpi=100)
